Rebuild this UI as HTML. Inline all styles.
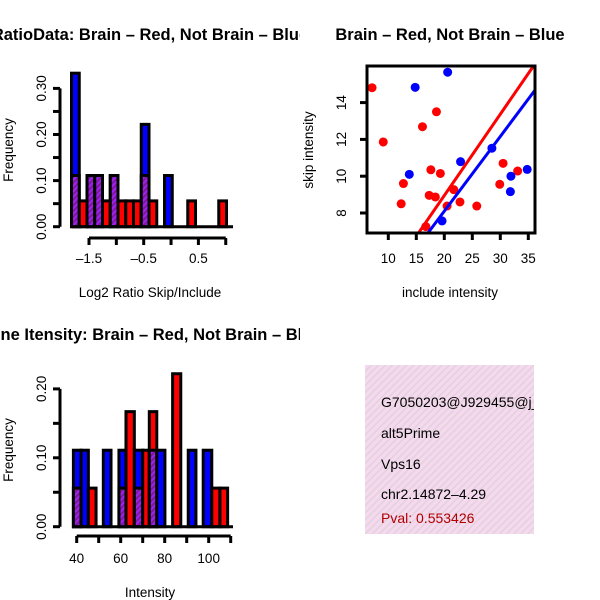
<!DOCTYPE html>
<html><head><meta charset="utf-8"><style>
html,body{margin:0;padding:0;background:#fff}
svg{display:block;font-family:"Liberation Sans",sans-serif}
</style></head><body>
<svg id="c" width="600" height="600" viewBox="0 0 600 600">
<defs>
<pattern id="hatch" patternUnits="userSpaceOnUse" width="4" height="4" patternTransform="rotate(45)">
<rect width="4" height="4" fill="#a020f0"/><rect width="2" height="4" fill="#7a1a9a"/></pattern>
<pattern id="pinkhatch" patternUnits="userSpaceOnUse" width="5" height="5" patternTransform="rotate(45)">
<rect width="5" height="5" fill="#f6d8f0"/><rect width="1.5" height="5" fill="#e0d4d8"/></pattern>
<clipPath id="cl1"><rect x="0" y="0" width="300" height="300"/></clipPath>
<clipPath id="cl3"><rect x="0" y="300" width="300" height="300"/></clipPath>
<clipPath id="cl2"><rect x="367" y="66" width="168" height="167"/></clipPath>
<clipPath id="cl4"><rect x="365" y="365" width="169" height="169"/></clipPath>
</defs>
<g id="p1"></g><g id="p2"></g><g id="p3"></g>
<g>
<rect x="365" y="365" width="169" height="169" fill="url(#pinkhatch)"/>
<g clip-path="url(#cl4)" font-size="14">
<text x="381" y="407">G7050203@J929455@j_</text>
<text x="381" y="438">alt5Prime</text>
<text x="381" y="469">Vps16</text>
<text x="381" y="499">chr2.14872–4.29</text>
<text x="381" y="523" fill="#b00000">Pval: 0.553426</text>
</g></g>
</svg>
<script>
const NS="http://www.w3.org/2000/svg";
function mk(parent,tag,attrs,txt){const e=document.createElementNS(NS,tag);for(const k in attrs)e.setAttribute(k,attrs[k]);if(txt!==undefined)e.textContent=txt;parent.appendChild(e);return e;}

// ---- Panel 1 data: log2 ratio histogram
const ratioBinStart=-1.82, ratioBinWidth=0.1417;
const ratioBlue=[0.333,0,0.111,0.111,0,0.111,0,0,0,0.222,0,0,0.111,0,0,0,0,0,0,0];
const ratioRed=[0.111,0.056,0.111,0.111,0.056,0.111,0.056,0.056,0.056,0.111,0.056,0,0,0,0,0.056,0,0,0,0.056];
const ratioXTicks=[-1.5,-1.0,-0.5,0,0.5,1.0];
const ratioXLabels=["–1.5","","–0.5","","0.5",""];
const ratioYTicks=[0,0.05,0.1,0.15,0.2,0.25,0.3];
const ratioYLabels=["0.00","","0.10","","0.20","","0.30"];

// ---- Panel 2 data: scatter
const redInclude=[7.1,9.1,16.1,18.6,12.7,12.3,17.6,19.3,17.3,18.4,21.7,20.5,22.8,25.8,16.7,30.5,29.9,33.1];
const redSkip=[14.81,11.86,12.69,13.5,9.6,8.5,10.35,10.15,8.96,8.87,9.27,8.38,8.6,8.38,7.26,10.7,9.56,10.28];
const blueInclude=[14.8,20.6,13.75,22.9,19.6,28.5,31.9,31.8,34.8];
const blueSkip=[14.83,15.65,10.1,10.79,7.57,11.52,10.0,9.16,10.37];
const redFit=[0.11,0.442];
const blueFit=[-0.02,0.406];
const scXTicks=[10,15,20,25,30,35];
const scYTicks=[8,10,12,14];

// ---- Panel 3 data: intensity histogram
const intEdges=[38.5,42,45.3,48.8,52.1,55.6,59.2,62.4,66.2,70,73,76.4,80.1,83.6,87.3,90.7,94.2,97.5,101.4,105.1,108.6];
const intBlue=[0.111,0.111,0,0,0.111,0,0.111,0,0.111,0,0.111,0.111,0,0,0,0.111,0,0.111,0,0];
const intRed=[0.056,0,0.056,0,0,0,0.056,0.167,0.056,0.111,0.167,0,0,0.222,0,0,0,0,0.056,0.056];
const intXTicks=[40,50,60,70,80,90,100,110];
const intXLabels=["40","","60","","80","","100",""];
const intYTicks=[0,0.05,0.1,0.15,0.2];
const intYLabels=["0.00","","0.10","","0.20"];

const TICKFS=13.5, LABFS=13.5, TITLEFS=16.5;

function drawBars(g,edges,blue,red,sx,sy){
  for(let i=0;i<blue.length;i++){
    const x0=sx(edges[i]),x1=sx(edges[i+1]);const b=blue[i],r=red[i];
    if(b<=0&&r<=0)continue;
    const mx=Math.max(b,r);const col=b>=r?"#0000ff":"#ff0000";
    const bar=mk(g,"rect",{x:x0,y:sy(mx),width:x1-x0,height:sy(0)-sy(mx),fill:col,stroke:"#000","stroke-width":3});
    
    
    const mn=Math.min(b,r);
    if(mn>0){const p=mk(g,"rect",{x:x0,y:sy(mn),width:x1-x0,height:sy(0)-sy(mn),fill:"url(#hatch)",stroke:"#000","stroke-width":3});
      
      }
  }
}
function yAxis(g,ticks,labels,sy,ax){
  const l=mk(g,"line",{x1:ax,x2:ax,y1:sy(ticks[0]),y2:sy(ticks[ticks.length-1]),stroke:"#000","stroke-width":3});
  
  
  ticks.forEach((t,i)=>{const y=sy(t);mk(g,"line",{x1:ax-7,x2:ax,y1:y,y2:y,stroke:"#000","stroke-width":3});
    if(labels[i]){const tx=mk(g,"text",{x:ax-14,y:y,"font-size":TICKFS,"text-anchor":"middle",transform:`rotate(-90 ${ax-14} ${y})`},labels[i]);
      
      }});
}
function xAxis(g,ticks,labels,sx,ay,ly){
  const l=mk(g,"line",{x1:sx(ticks[0]),x2:sx(ticks[ticks.length-1]),y1:ay,y2:ay,stroke:"#000","stroke-width":3});
  
  
  ticks.forEach((t,i)=>{const x=sx(t);mk(g,"line",{x1:x,x2:x,y1:ay,y2:ay+7,stroke:"#000","stroke-width":3});
    if(labels[i]){const tx=mk(g,"text",{x:x,y:ly,"font-size":TICKFS,"text-anchor":"middle"},labels[i]);
      
      }});
}
function label(g,txt,x,y,opts,name){const t=mk(g,"text",Object.assign({x:x,y:y,"text-anchor":"middle","font-size":LABFS},opts||{}),txt);
  
  return t;}

// Panel 1
(function(){
  const g=document.getElementById("p1");g.setAttribute("clip-path","url(#cl1)");
  
  
  const sx=v=>89+(v+1.5)*54.7, sy=v=>226.7-v*461;
  const edges=ratioBlue.map((_,i)=>ratioBinStart+i*ratioBinWidth);edges.push(ratioBinStart+ratioBlue.length*ratioBinWidth);
  drawBars(g,edges,ratioBlue,ratioRed,sx,sy);
  mk(g,"line",{x1:72,x2:233,y1:sy(0),y2:sy(0),stroke:"#000","stroke-width":3});
  yAxis(g,ratioYTicks,ratioYLabels,sy,60);
  xAxis(g,ratioXTicks,ratioXLabels,sx,238,263);
  label(g,"RatioData: Brain – Red, Not Brain – Blue",150,40,{"font-size":TITLEFS,"font-weight":"bold"},"chart-title");
  label(g,"Log2 Ratio Skip/Include",150,297,{},"x-axis-title");
  label(g,"Frequency",13,150,{transform:"rotate(-90 13 150)"},"y-axis-title");
})();
// Panel 2
(function(){
  const g=document.getElementById("p2");
  
  
  const sx=v=>388.3+(v-10)*5.6, sy=v=>213-(v-8)*18.4;
  const pts=mk(g,"g",{"clip-path":"url(#cl2)"});
  redInclude.forEach((v,i)=>{const c=mk(pts,"circle",{cx:sx(v),cy:sy(redSkip[i]),r:4.5,fill:"#ff0000"});
    
    });
  blueInclude.forEach((v,i)=>{const c=mk(pts,"circle",{cx:sx(v),cy:sy(blueSkip[i]),r:4.5,fill:"#0000ff"});
    
    });
  [[redFit,"#ff0000","red-fit-line"],[blueFit,"#0000ff","blue-fit-line"]].forEach(([f,c,n])=>{
    const l=mk(pts,"line",{x1:sx(0),y1:sy(f[0]),x2:sx(40),y2:sy(f[0]+f[1]*40),stroke:c,"stroke-width":3});
    
    });
  const box=mk(g,"rect",{x:367,y:66,width:168,height:167,fill:"none",stroke:"#000","stroke-width":3});
  
  
  scXTicks.forEach(t=>{const x=sx(t);mk(g,"line",{x1:x,x2:x,y1:233,y2:240,stroke:"#000","stroke-width":3});
    label(g,String(t),x,263,{"font-size":TICKFS},"x-tick-label");});
  scYTicks.forEach(t=>{const y=sy(t);mk(g,"line",{x1:360,x2:367,y1:y,y2:y,stroke:"#000","stroke-width":3});
    label(g,String(t),346,y,{"font-size":TICKFS,transform:`rotate(-90 346 ${y})`},"y-tick-label");});
  label(g,"Brain – Red, Not Brain – Blue",450,40,{"font-size":TITLEFS,"font-weight":"bold"},"chart-title");
  label(g,"include intensity",450,297,{},"x-axis-title");
  label(g,"skip intensity",313,150,{transform:"rotate(-90 313 150)"},"y-axis-title");
})();
// Panel 3
(function(){
  const g=document.getElementById("p3");g.setAttribute("clip-path","url(#cl3)");
  
  
  const sx=v=>76.7+(v-40)*2.2, sy=v=>526.7-v*689;
  drawBars(g,intEdges,intBlue,intRed,sx,sy);
  mk(g,"line",{x1:72,x2:233,y1:sy(0),y2:sy(0),stroke:"#000","stroke-width":3});
  yAxis(g,intYTicks,intYLabels,sy,60);
  xAxis(g,intXTicks,intXLabels,sx,536,563);
  label(g,"Gene Itensity: Brain – Red, Not Brain – Blue",150,340,{"font-size":TITLEFS,"font-weight":"bold"},"chart-title");
  label(g,"Intensity",150,597,{},"x-axis-title");
  label(g,"Frequency",13,450,{transform:"rotate(-90 13 450)"},"y-axis-title");
})();
</script>
</body></html>
